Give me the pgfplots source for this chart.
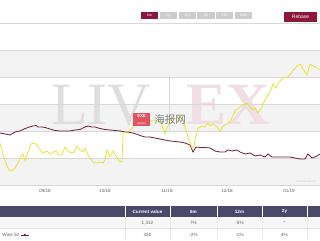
\documentclass[border=0pt]{standalone}
\usepackage{fontspec}
\setmainfont{Liberation Sans}
\newfontfamily\libserif{Liberation Serif}
\newfontfamily\cjk{Noto Sans CJK SC}
\usepackage{pgfplots}
\pgfplotsset{compat=1.18}
\definecolor{wine}{RGB}{118,28,60}
\definecolor{yel}{RGB}{234,228,50}
\definecolor{band}{RGB}{243,243,243}
\definecolor{gridc}{RGB}{216,216,216}
\definecolor{hdr}{RGB}{74,73,106}
\definecolor{btn}{RGB}{139,24,58}
\definecolor{btngrey}{RGB}{204,204,204}
\definecolor{txt}{RGB}{95,95,95}
\definecolor{wmpink}{RGB}{240,222,229}
\definecolor{wmred}{RGB}{226,84,98}
\definecolor{rowgrey}{RGB}{247,247,247}

% x = day counted from 1 Aug 2018, y = height in the (unlabelled) plot scale
\pgfplotstableread{
x y
8.5 52
11 51
13.5 50
16 53
18.5 54
20.5 56
22.5 57.5
25 59
26.5 59.5
27.5 58
29.5 58
31 57.5
33.5 56
36 54.5
38.5 54
41 54
43.5 54
46 55
48.5 55.5
51 58
52.5 59
54.5 58
56 58
58.5 56.5
61 55.5
63.5 55
66 54.5
68.5 54
71 53
73.5 52.5
76 51.5
78.5 49.5
81 48
83.5 48
86 47
88.5 46
91 45
93.5 44
96 43.5
98.5 43
101 42
103.5 40
105 33
106.5 38
108.5 37.5
111 37.5
113.5 37
116 34
118.5 33
121 33
122.5 35
124.5 34
127 35
128.5 33
131 31
133.5 32
136 29
138.5 30
141 28
142.5 31
144.5 28
148.5 28
153.5 28
158.5 26
161 26
162.5 31
164.5 27
167 29
168.5 31
}\winefifty

\pgfplotstableread{
x y
8.5 42
10 30
11.5 22
13 15
14.5 14
16 17
17.5 22
19 28
20 31
21 24
22.5 33
24 41
25.5 42
27 40
28.5 35
30 32
32 34
33.5 31
35 33
36.5 34
38 30
39.5 30
41 38
42.5 34
44 32
45.5 33
47 39
48.5 35
50 33
51 37
52.5 30
54 25
55.5 22
57 22
58.5 23
60 22
61 25
62 35
63.5 28
65 34
67 27
68.5 23
69.5 24
70 51
71 53
72.5 53
73.5 55
75 58
77 62
78.5 64
81 65
83.5 64
86 65
88.5 63
90 57
91 51
92 57
93.5 64
95 67
96.5 66
97.5 63
98.5 69
100 65
101.5 55
103 45
104.5 37
105.5 39
106.5 49
107.5 57
109.5 59
111 58
112.5 62
113.5 59
115 61
117 58
118.5 54
120 59
122 61
123.5 63
124.5 67
126 74
128.5 78
130 80
132 82
133.5 78
135 75
136 77
137.5 72
139.5 78
141 85
142.5 90
143.5 93
145 101
146.5 97
148 103
150 107
152.5 108
154.5 113
157 119
158.5 121
160 116
162 110
163.5 121
165 119
167 117
168.5 115
}\otherindex

\begin{document}
\begin{tikzpicture}[x=1pt,y=1pt]
\useasboundingbox (0,0) rectangle (320,240);
\fill[white] (0,0) rectangle (320,240);
% alternating plot bands
\fill[band] (0,163) rectangle (320,190);
\fill[band] (0,108) rectangle (320,136);
\fill[band] (0,55) rectangle (320,81);
% LIV|EX watermark
\node[text=black!13, font=\libserif\fontsize{60}{60}\selectfont, inner sep=0pt] at (101,135) {LIV};
\draw[black!14, line width=0.6pt] (169,110) -- (169,165);
\node[text=wmpink, font=\libserif\bfseries\fontsize{60}{60}\selectfont, inner sep=0pt] at (228,135) {EX};

\begin{axis}[
  at={(0pt,55pt)}, anchor=south west,
  scale only axis, width=320pt, height=162pt,
  xmin=8.5, xmax=168.5, ymin=0, ymax=162,
  axis line style={draw=none},
  major tick length=0pt,
  ytick={0,27,54,81,108,135,162},
  yticklabels={},
  ymajorgrids,
  grid style={gridc, line width=0.5pt},
  xtick={31,61,92,122,153},
  xticklabels={09/18,10/18,11/18,12/18,01/19},
  xticklabel style={text=txt, font=\fontsize{4.6}{5}\selectfont, yshift=-0.5pt},
  /pgf/number format/assume math mode=true,
]
\addplot[wine, line width=0.8pt, no markers] table[x=x,y=y] {\winefifty};
\addplot[yel, line width=0.8pt, no markers] table[x=x,y=y] {\otherindex};
\end{axis}

% small watermark on top of the lines
\fill[wmred] (133,114) rectangle (150,127);
\node[text=white, font=\bfseries\fontsize{4.2}{4.5}\selectfont, inner sep=0pt] at (141.5,123.8) {EXE};
\node[text=white, font=\fontsize{2.4}{2.6}\selectfont, inner sep=0pt] at (141.5,116.3) {BRAND};
\node[text=black!50, font=\cjk\fontsize{10.5}{11}\selectfont, inner sep=0pt] at (170,120) {海报网};
% source note
\node[text=black!22, font=\fontsize{3}{3.5}\selectfont, inner sep=0pt] at (306,59) {Source: Liv-ex};

% period buttons
\fill[btn] (141,221) rectangle (158,228);
\node[text=white, font=\fontsize{3.5}{4}\selectfont] at (149.5,224.5) {6m};
\fill[btngrey] (160,221) rectangle (177,228);
\node[text=white, font=\fontsize{3.5}{4}\selectfont] at (168.5,224.5) {1yr};
\fill[btngrey] (179,221) rectangle (196,228);
\node[text=white, font=\fontsize{3.5}{4}\selectfont] at (187.5,224.5) {2yr};
\fill[btngrey] (197,221) rectangle (215,228);
\node[text=white, font=\fontsize{3.5}{4}\selectfont] at (206,224.5) {3yr};
\fill[btngrey] (216,221) rectangle (233,228);
\node[text=white, font=\fontsize{3.5}{4}\selectfont] at (224.5,224.5) {YTD};
\fill[btngrey] (235,221) rectangle (252,228);
\node[text=white, font=\fontsize{3.5}{4}\selectfont] at (243.5,224.5) {Max};
\fill[btn] (284,218) rectangle (317,228);
\node[text=white, font=\fontsize{5}{6}\selectfont] at (300.5,223) {Rebase};

% table
\fill[hdr] (0,23) rectangle (320,34);
\fill[rowgrey] (0,11.5) rectangle (320,23);
\foreach \s in {125,170,217,262,307} {
  \draw[white, line width=0.8pt] (\s,23) -- (\s,34);
  \draw[black!8, line width=0.4pt] (\s,0) -- (\s,23);
}
\draw[black!10, line width=0.4pt] (0,11.5) -- (320,11.5);
\begin{scope}[every node/.style={text=white, font=\bfseries\fontsize{4.6}{5}\selectfont, inner sep=0pt}]
\node at (147.5,28.5) {Current value};
\node at (193.5,28.5) {6m};
\node at (239.5,28.5) {12m};
\node at (284.5,28.5) {2y};
\end{scope}
\begin{scope}[every node/.style={text=txt, font=\fontsize{4.6}{5}\selectfont, inner sep=0pt}]
\node at (147.5,17) {1,312};
\node at (193.5,17) {7\%};
\node at (239.5,17) {-5\%};
\node at (284.5,17) {--};
\node at (147.5,5) {350};
\node at (193.5,5) {-2\%};
\node at (239.5,5) {-1\%};
\node at (284.5,5) {4\%};
\node[anchor=east] at (19.5,5) {Wine 50};
\end{scope}
\draw[wine, line width=0.6pt] (21,5) -- (29,5);
\fill[wine] (25,5) circle (1.4pt);
\end{tikzpicture}
\end{document}
